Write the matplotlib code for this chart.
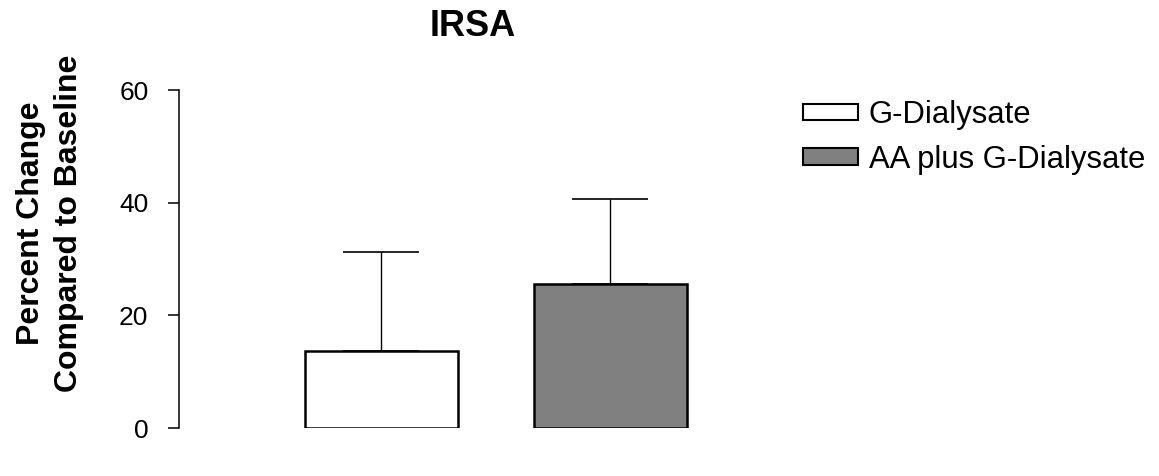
import matplotlib
matplotlib.use("Agg")
import matplotlib.pyplot as plt
from matplotlib.patches import Patch

categories = ["G-Dialysate", "AA plus G-Dialysate"]
values = [13.7, 25.6]
errors = [17.6, 15.1]
colors = ["#ffffff", "#808080"]
yticks = [0, 20, 40, 60]

plt.rcParams['font.family'] = ['Liberation Sans', 'DejaVu Sans']

fig = plt.figure(figsize=(11.59, 4.76), dpi=100)
ax = fig.add_axes([179/1159, 1-428/476, (720-179)/1159, (428-90)/476])

x = [0, 1]
ax.errorbar(x, values, yerr=[[0, 0], errors], fmt='none', ecolor='black',
            elinewidth=1.0, capsize=27.4, capthick=1.2, zorder=1)
ax.bar(x, values, width=0.668, color=colors, edgecolor='black', linewidth=1.8, zorder=2)

ax.set_xlim(-0.882, 1.48)
ax.set_ylim(0, 60)
ax.set_yticks(yticks)
ax.tick_params(axis='y', labelsize=19, length=8, width=1.1, pad=14, direction='out')
ax.set_xticks([])
for s in ['top', 'right', 'bottom']:
    ax.spines[s].set_visible(False)
ax.spines['left'].set_linewidth(1.1)

fig.text(50/1159, 1-223/476, "Percent Change\nCompared to Baseline", fontsize=23,
         fontweight='bold', rotation=90, ha='center', va='center',
         linespacing=1.35, multialignment='center')

fig.text(473/1159, 1-27/476, "IRSA", fontsize=26, fontweight='bold', ha='center', va='center')

handles = [Patch(facecolor=c, edgecolor='black', linewidth=1.5) for c in colors]
fig.legend(handles, categories, loc='upper left', bbox_to_anchor=(803/1159, 1-100/476),
           frameon=False, fontsize=22.3, handlelength=1.77, handleheight=0.46,
           handletextpad=0.36, labelspacing=0.47, borderaxespad=0, borderpad=0)

fig.savefig("out.png", dpi=100)
